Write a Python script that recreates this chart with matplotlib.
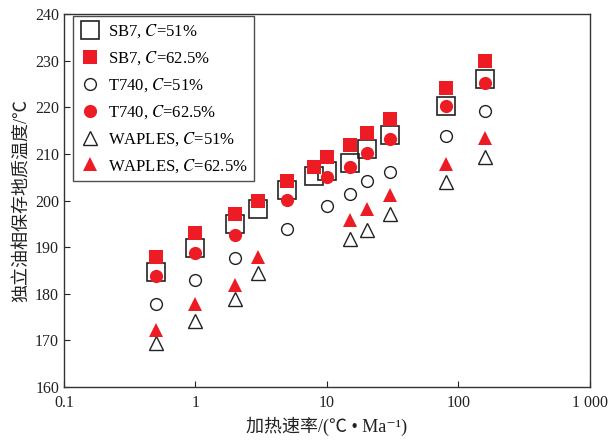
import matplotlib
matplotlib.use("Agg")
import matplotlib.pyplot as plt

plt.rcParams['font.family'] = ['Liberation Serif', 'Noto Sans CJK SC', 'DejaVu Sans']
plt.rcParams['mathtext.fontset'] = 'stix'

# Data
x_sb7 = [0.5, 1, 2, 3, 5, 8, 10, 15, 20, 30, 80, 160]
sb7_51 = [184.6, 189.9, 194.9, 198.2, 202.2, 205.2, 206.3, 208.1, 211.0, 214.0, 220.3, 226.0]
sb7_625 = [187.8, 193.0, 197.2, 200.0, 204.2, 207.2, 209.3, 212.0, 214.4, 217.4, 224.2, 230.0]

x_t740 = [0.5, 1, 2, 5, 10, 15, 20, 30, 80, 160]
t740_51 = [177.8, 183.0, 187.7, 193.9, 198.9, 201.3, 204.1, 206.2, 213.9, 219.1]
t740_625 = [183.8, 188.8, 192.7, 200.2, 205.0, 207.2, 210.2, 213.3, 220.2, 225.2]

x_wap = [0.5, 1, 2, 3, 15, 20, 30, 80, 160]
wap_51 = [169.5, 174.1, 178.8, 184.5, 191.8, 193.7, 197.2, 204.0, 209.3]
wap_625 = [172.2, 177.8, 181.9, 187.8, 195.9, 198.1, 201.2, 207.9, 213.4]

xticks = [0.1, 1, 10, 100, 1000]
xticklabels = ['0.1', '1', '10', '100', '1 000']
yticks = [160, 170, 180, 190, 200, 210, 220, 230, 240]

red = '#ED1C24'
dark = '#222222'

fig = plt.figure(figsize=(6.13, 4.42), dpi=100)
ax = fig.add_axes([0.1044, 0.1244, 0.8580, 0.8439])

ax.plot(x_sb7, sb7_51, linestyle='none', marker='s', markersize=12.5, markerfacecolor='none',
        markeredgecolor=dark, markeredgewidth=1.2, label='SB7, $C$=51%')
ax.plot(x_sb7, sb7_625, linestyle='none', marker='s', markersize=9.5, markerfacecolor=red,
        markeredgecolor=red, markeredgewidth=0, label='SB7, $C$=62.5%')
ax.plot(x_t740, t740_51, linestyle='none', marker='o', markersize=8.5, markerfacecolor='none',
        markeredgecolor=dark, markeredgewidth=1.0, label='T740, $C$=51%')
ax.plot(x_t740, t740_625, linestyle='none', marker='o', markersize=9.5, markerfacecolor=red,
        markeredgecolor=red, markeredgewidth=0, label='T740, $C$=62.5%')
ax.plot(x_wap, wap_51, linestyle='none', marker='^', markersize=9.5, markerfacecolor='none',
        markeredgecolor=dark, markeredgewidth=1.0, label='WAPLES, $C$=51%')
ax.plot(x_wap, wap_625, linestyle='none', marker='^', markersize=9.5, markerfacecolor=red,
        markeredgecolor=red, markeredgewidth=0, label='WAPLES, $C$=62.5%')

ax.set_xscale('log')
ax.set_xlim(0.1, 1000)
ax.set_ylim(160, 240)
ax.set_xticks(xticks)
ax.set_xticklabels(xticklabels)
ax.set_yticks(yticks)
ax.minorticks_off()
ax.tick_params(direction='in', length=4, width=0.8, labelsize=11.5, colors='#222222')
ax.tick_params(axis='x', pad=6)
for s in ax.spines.values():
    s.set_linewidth(1.0)
    s.set_color('#333333')

ax.set_xlabel('加热速率/(℃ • Ma⁻¹)', fontsize=13, color='#222222', labelpad=4)
ax.set_ylabel('独立油相保存地质温度/℃', fontsize=13, color='#222222', labelpad=4)

leg = ax.legend(loc='upper left', bbox_to_anchor=(0.017, 0.995), fontsize=12, frameon=True,
                fancybox=False, edgecolor='#222222', handlelength=1.2, handletextpad=0.5,
                labelspacing=0.55, borderpad=0.4, numpoints=1, borderaxespad=0.0)
leg.get_frame().set_linewidth(1.0)

fig.savefig('out.png', dpi=100)
